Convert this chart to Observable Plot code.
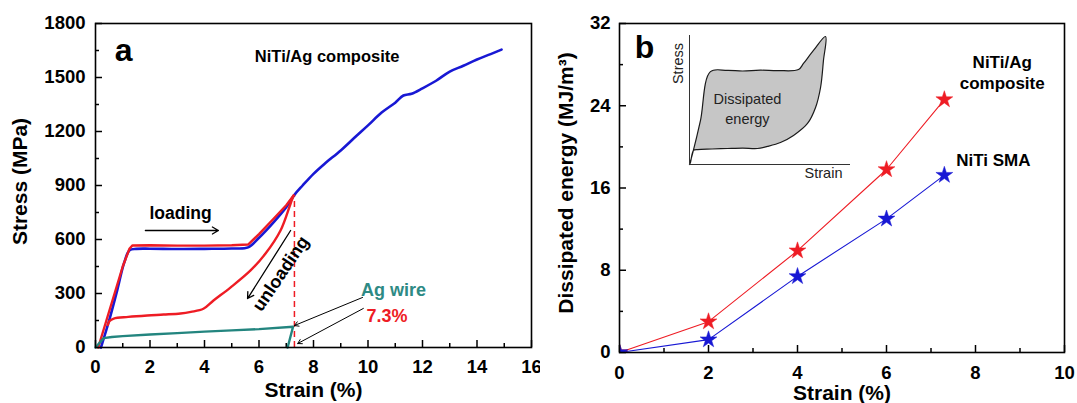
<!DOCTYPE html>
<html><head><meta charset="utf-8">
<script src="https://cdn.jsdelivr.net/npm/d3@7"></script>
<script src="https://cdn.jsdelivr.net/npm/@observablehq/plot@0.6"></script>
<style>
body{margin:0;background:#fff;}
#wrap{position:relative;width:1077px;height:403px;overflow:hidden;background:#fff;}
#wrap svg{position:absolute;top:0;}
</style></head><body><div id="wrap"></div>
<script>
// ---------- Panel (a) data: stress–strain curves ----------
const blueStrain = [0.2, 0.5, 0.8, 1.05, 1.25, 1.5, 2, 3, 4, 5, 5.6, 6.0, 6.5, 7.0, 7.3, 7.6, 8.0, 8.4, 9.0, 9.5, 10.0, 10.5, 11.0, 11.3, 11.6, 12.0, 12.5, 13.0, 13.5, 14.0, 14.5, 14.9];
const blueStress = [0, 150, 320, 470, 540, 548, 549, 547, 548, 550, 556, 610, 690, 780, 848, 900, 965, 1020, 1095, 1165, 1234, 1305, 1360, 1400, 1410, 1440, 1482, 1533, 1565, 1600, 1630, 1655];
const redLoadStrain = [0.1, 0.4, 0.7, 1.0, 1.25, 1.36, 2, 3, 4, 5, 5.6, 6.0, 6.5, 7.0, 7.27];
const redLoadStress = [0, 150, 300, 450, 550, 567, 568, 566, 566, 568, 572, 630, 710, 790, 844];
const redUnloadStrain = [7.27, 7.16, 6.79, 6.24, 5.69, 4.95, 4.33, 3.96, 3.5, 3.12, 2.5, 1.9, 1.2, 0.67, 0.52, 0.45];
const redUnloadStress = [844, 800, 650, 522, 428, 333, 261, 215, 198, 189, 183, 178, 170, 161, 148, 125];
const agStrain = [0, 0.3, 0.6, 1, 2, 3, 4, 5, 6, 7.25, 7.05];
const agStress = [0, 52, 58, 63, 72, 80, 88, 95, 102, 115, 0];
const strainMark = [7.3];
const strainMarkStress = [848];
const xTicksA = [0, 2, 4, 6, 8, 10, 12, 14, 16];
const xMinorA = [1, 3, 5, 7, 9, 11, 13, 15];
const yTicksA = [0, 300, 600, 900, 1200, 1500, 1800];
const yMinorA = [150, 450, 750, 1050, 1350, 1650];

// ---------- Panel (b) data: dissipated energy ----------
const strainB = [0, 2, 4, 6, 7.3];
const compositeEnergy = [0, 3.0, 9.9, 17.8, 24.6];
const smaEnergy = [0, 1.25, 7.4, 13.0, 17.25];
const xTicksB = [0, 2, 4, 6, 8, 10];
const xMinorB = [1, 3, 5, 7, 9];
const yTicksB = [0, 8, 16, 24, 32];
const yMinorB = [4, 12, 20, 28];

// ---------- Inset data (schematic loop, arbitrary units) ----------
const insetStrain = [0, 0.19, 0.68, 1.3, 2.36, 3.3, 4.4, 5.5, 6.77, 7.08, 7.7, 8.45, 8.32, 8.14, 7.83, 7.33, 6.46, 5.65, 4.84, 4.22, 3.3, 2.36, 1.4, 0.5, 0.25, 0.06];
const insetStress = [0, 0.85, 3.4, 7.2, 7.29, 7.25, 7.31, 7.28, 7.36, 7.83, 8.84, 9.92, 8.06, 5.97, 4.42, 3.18, 2.25, 1.7, 1.4, 1.24, 1.27, 1.24, 1.2, 1.16, 1.09, 0.16];

const zip = (xs, ys) => xs.map((x, i) => ({x, y: ys[i]}));
const FONT = "'Liberation Sans', Arial, sans-serif";
const BOLD = {fontWeight: "bold", fontFamily: FONT};
const fmt = d => String(d);

const RED = "#ee1c24", BLUE = "#1818d4", TEAL = "#23857f";

// ---------- Panel (a) ----------
const hA = 403, mTA = 23, mBA = 56, wA = 540, mLA = 95, mRA = 9;
const fhA = hA - mTA - mBA, fwA = wA - mLA - mRA;
const chartA = Plot.plot({
  width: wA, height: hA,
  marginLeft: mLA, marginRight: mRA, marginTop: mTA, marginBottom: mBA,
  style: {fontFamily: FONT, background: "transparent", overflow: "hidden"},
  x: {domain: [0, 16]},
  y: {domain: [0, 1800]},
  marks: [
    Plot.axisX(xTicksA, {tickSize: 0, tickPadding: 12, tickFormat: fmt, fontSize: 18.5, fontWeight: "bold", label: null}),
    Plot.axisY(yTicksA, {tickSize: 0, tickPadding: 10, tickFormat: fmt, fontSize: 18.5, fontWeight: "bold", label: null}),
    Plot.tickX(xTicksA, {x: d => d, insetTop: fhA - 7, strokeWidth: 1.5}),
    Plot.tickX(xMinorA, {x: d => d, insetTop: fhA - 4, strokeWidth: 1.5}),
    Plot.tickY(yTicksA, {y: d => d, insetRight: fwA - 7, strokeWidth: 1.5}),
    Plot.tickY(yMinorA, {y: d => d, insetRight: fwA - 4, strokeWidth: 1.5}),
    Plot.ruleX(strainMark, {x: d => d, y1: 0, y2: strainMarkStress[0], stroke: RED, strokeWidth: 1.5, strokeDasharray: "6,4"}),
    Plot.line(zip(blueStrain, blueStress), {x: "x", y: "y", stroke: BLUE, strokeWidth: 2.6, curve: "catmull-rom"}),
    Plot.line(zip(redLoadStrain, redLoadStress), {x: "x", y: "y", stroke: RED, strokeWidth: 2.4}),
    Plot.line(zip(redUnloadStrain, redUnloadStress), {x: "x", y: "y", stroke: RED, strokeWidth: 2.4, curve: "catmull-rom"}),
    Plot.line(zip(agStrain, agStress), {x: "x", y: "y", stroke: TEAL, strokeWidth: 2.4}),
    Plot.frame({stroke: "black", strokeWidth: 1.6}),
    // annotations
    Plot.arrow([{x1: 1.83, y1: 650, x2: 4.51, y2: 650}], {x1: "x1", y1: "y1", x2: "x2", y2: "y2", headLength: 8, strokeWidth: 1.3}),
    Plot.text(["loading"], {x: 3.12, y: 744, fontSize: 17.5, ...BOLD}),
    Plot.arrow([{x1: 7.16, y1: 650, x2: 5.58, y2: 272}], {x1: "x1", y1: "y1", x2: "x2", y2: "y2", headLength: 8, strokeWidth: 1.3}),
    Plot.text(["unloading"], {x: 6.8, y: 410, rotate: -56, fontSize: 18, ...BOLD}),
    Plot.arrow([{x1: 9.8, y1: 278, x2: 7.3, y2: 122}], {x1: "x1", y1: "y1", x2: "x2", y2: "y2", headLength: 7, strokeWidth: 1}),
    Plot.arrow([{x1: 9.83, y1: 217, x2: 7.42, y2: 22}], {x1: "x1", y1: "y1", x2: "x2", y2: "y2", headLength: 7, strokeWidth: 1}),
    Plot.text(["Ag wire"], {x: 10.94, y: 317, fill: "#2e8a84", fontSize: 18, ...BOLD}),
    Plot.text(["7.3%"], {x: 10.7, y: 172, fill: RED, fontSize: 18, ...BOLD}),
    Plot.text(["NiTi/Ag composite"], {x: 8.5, y: 1614, fontSize: 16.5, ...BOLD}),
    Plot.text(["a"], {x: 1.03, y: 1650, fontSize: 32, ...BOLD}),
    Plot.text(["Strain (%)"], {frameAnchor: "bottom", textAnchor: "middle", lineAnchor: "middle", dy: 43, fontSize: 21, ...BOLD}),
    Plot.text(["Stress (MPa)"], {frameAnchor: "left", textAnchor: "middle", lineAnchor: "middle", dx: -75, dy: -4, rotate: -90, fontSize: 21, ...BOLD})
  ]
});
chartA.style.left = "0px";

// ---------- Panel (b) ----------
const hB = 403, mTB = 23, mBB = 51, wB = 537, mLB = 79, mRB = 13;
const fhB = hB - mTB - mBB, fwB = wB - mLB - mRB;
const composite = zip(strainB, compositeEnergy);
const sma = zip(strainB, smaEnergy);
const chartB = Plot.plot({
  width: wB, height: hB,
  marginLeft: mLB, marginRight: mRB, marginTop: mTB, marginBottom: mBB,
  style: {fontFamily: FONT, background: "transparent", overflow: "hidden"},
  x: {domain: [0, 10]},
  y: {domain: [0, 32]},
  marks: [
    Plot.axisX(xTicksB, {tickSize: 0, tickPadding: 13, tickFormat: fmt, fontSize: 18.5, fontWeight: "bold", label: null}),
    Plot.axisY(yTicksB, {tickSize: 0, tickPadding: 9, tickFormat: fmt, fontSize: 18.5, fontWeight: "bold", label: null}),
    Plot.tickX(xTicksB, {x: d => d, insetTop: fhB - 7, strokeWidth: 1.5}),
    Plot.tickX(xMinorB, {x: d => d, insetTop: fhB - 4, strokeWidth: 1.5}),
    Plot.tickY(yTicksB, {y: d => d, insetRight: fwB - 7, strokeWidth: 1.5}),
    Plot.tickY(yMinorB, {y: d => d, insetRight: fwB - 4, strokeWidth: 1.5}),
    Plot.line(composite, {x: "x", y: "y", stroke: RED, strokeWidth: 1.1}),
    Plot.line(sma, {x: "x", y: "y", stroke: BLUE, strokeWidth: 1.1}),
    Plot.dot(composite, {x: "x", y: "y", symbol: "star", r: 5.3, fill: RED, stroke: RED, strokeWidth: 0.5, clip: true}),
    Plot.dot(sma, {x: "x", y: "y", symbol: "star", r: 5.3, fill: BLUE, stroke: BLUE, strokeWidth: 0.5, clip: true}),
    Plot.frame({stroke: "black", strokeWidth: 1.6}),
    Plot.text(["b"], {x: 0.56, y: 29.6, fontSize: 32, ...BOLD}),
    Plot.text(["NiTi/Ag\ncomposite"], {x: 8.6, y: 27.3, lineHeight: 1.2, fontSize: 17, ...BOLD}),
    Plot.text(["NiTi SMA"], {x: 8.4, y: 18.7, fontSize: 17, ...BOLD}),
    Plot.text(["Strain (%)"], {frameAnchor: "bottom", textAnchor: "middle", lineAnchor: "middle", dy: 41, fontSize: 21, ...BOLD}),
    Plot.text(["Dissipated energy (MJ/m³)"], {frameAnchor: "left", textAnchor: "middle", lineAnchor: "middle", dx: -53, dy: -5, rotate: -90, fontSize: 21, ...BOLD})
  ]
});
chartB.style.left = "540px";

// ---------- Inset ----------
const inset = Plot.plot({
  width: 191, height: 154,
  marginLeft: 20, marginRight: 10, marginTop: 5, marginBottom: 20,
  style: {fontFamily: FONT, background: "transparent", overflow: "visible"},
  x: {domain: [0, 10], axis: null},
  y: {domain: [0, 10], axis: null},
  marks: [
    Plot.line(zip(insetStrain, insetStress).concat([{x: insetStrain[0], y: insetStress[0]}]), {x: "x", y: "y", fill: "#c6c6c6", stroke: "#1a1a1a", strokeWidth: 1.2, curve: "catmull-rom"}),
    Plot.ruleX([0], {stroke: "#333", strokeWidth: 1}),
    Plot.ruleY([0], {stroke: "#333", strokeWidth: 1}),
    Plot.text(["Stress"], {frameAnchor: "top-left", textAnchor: "middle", lineAnchor: "middle", dx: -11, dy: 28, rotate: -90, fontSize: 14.5, fill: "#222"}),
    Plot.text(["Strain"], {frameAnchor: "bottom-right", textAnchor: "middle", lineAnchor: "middle", dx: -27, dy: 9, fontSize: 14.5, fill: "#222"}),
    Plot.text(["Dissipated\nenergy"], {x: 3.6, y: 4.42, lineHeight: 1.38, fontSize: 14.5, fill: "#222"})
  ]
});
inset.style.left = "669px";
inset.style.top = "30px";

const wrap = document.getElementById("wrap");
wrap.appendChild(chartA);
wrap.appendChild(chartB);
wrap.appendChild(inset);
</script>
</body></html>
